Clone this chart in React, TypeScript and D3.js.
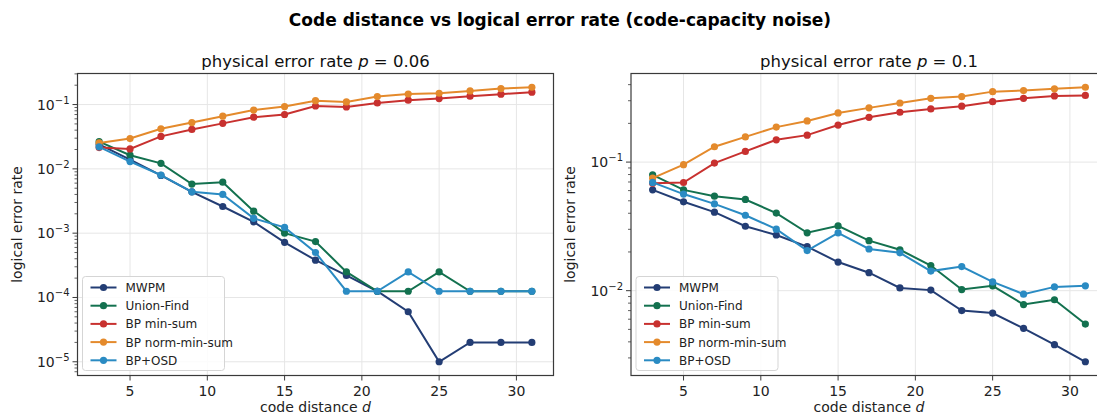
import React from 'react'
import * as d3 from 'd3'

const distances = [3, 5, 7, 9, 11, 13, 15, 17, 19, 21, 23, 25, 27, 29, 31]
const decoders = ['MWPM', 'Union-Find', 'BP min-sum', 'BP norm-min-sum', 'BP+OSD']
const colors = ['#233d74', '#13714f', '#c8312f', '#e48a2c', '#2a8bc3']

// p = 0.06
const mwpm006 = [0.024, 0.0139, 0.0079, 0.0044, 0.0026, 0.0015, 0.00072, 0.00038, 0.00022, 0.000125, 0.00006, 0.00001, 0.00002, 0.00002, 0.00002]
const uf006 = [0.0265, 0.0163, 0.0122, 0.0058, 0.0062, 0.0022, 0.001, 0.00074, 0.00025, 0.000125, 0.000125, 0.00025, 0.000125, 0.000125, 0.000125]
const bpms006 = [0.0214, 0.0204, 0.032, 0.041, 0.051, 0.0636, 0.07, 0.095, 0.092, 0.106, 0.117, 0.124, 0.135, 0.145, 0.156]
const bpnms006 = [0.0253, 0.0296, 0.042, 0.0525, 0.066, 0.082, 0.093, 0.115, 0.11, 0.133, 0.146, 0.15, 0.163, 0.177, 0.186]
const osd006 = [0.022, 0.013, 0.008, 0.0044, 0.004, 0.0017, 0.00123, 0.0005, 0.000125, 0.000125, 0.00025, 0.000125, 0.000125, 0.000125, 0.000125]

// p = 0.1
const mwpm01 = [0.0608, 0.0491, 0.0408, 0.0317, 0.0271, 0.022, 0.0167, 0.0138, 0.0105, 0.0101, 0.0070, 0.0067, 0.0051, 0.0038, 0.0028]
const uf01 = [0.0796, 0.0608, 0.0543, 0.0512, 0.0401, 0.0282, 0.0319, 0.0245, 0.0208, 0.0157, 0.0102, 0.0109, 0.0078, 0.0085, 0.0055]
const bpms01 = [0.0686, 0.0694, 0.0982, 0.121, 0.149, 0.162, 0.194, 0.223, 0.244, 0.259, 0.272, 0.295, 0.313, 0.327, 0.33]
const bpnms01 = [0.075, 0.0954, 0.1316, 0.157, 0.187, 0.209, 0.241, 0.264, 0.288, 0.313, 0.323, 0.353, 0.36, 0.371, 0.382]
const osd01 = [0.0695, 0.0564, 0.0473, 0.0386, 0.0301, 0.0205, 0.0282, 0.0211, 0.0197, 0.0142, 0.0154, 0.0117, 0.0094, 0.0107, 0.0109]

const xTicks = [5, 10, 15, 20, 25, 30]
const font = 'DejaVu Sans, sans-serif'

type PanelProps = {
  left: number
  series: number[][]
  pLabel: string
}

function Panel({ left, series, pLabel }: PanelProps) {
  const width = 476
  const top = 73.5
  const bottom = 375.5
  const x = d3.scaleLinear().domain([1.6, 32.4]).range([left, left + width])
  const all = series.flat()
  const lmin = Math.log10(d3.min(all) as number)
  const lmax = Math.log10(d3.max(all) as number)
  const pad = (lmax - lmin) * 0.05
  const y = d3.scaleLog().domain([10 ** (lmin - pad), 10 ** (lmax + pad)]).range([bottom, top])
  const [d0, d1] = y.domain()
  const majors: number[] = []
  const minors: number[] = []
  for (let k = Math.floor(Math.log10(d0)); k <= Math.ceil(Math.log10(d1)); k++) {
    if (10 ** k >= d0 && 10 ** k <= d1) majors.push(k)
    for (let m = 2; m <= 9; m++) {
      const v = m * 10 ** k
      if (v >= d0 && v <= d1) minors.push(v)
    }
  }
  const line = d3.line<[number, number]>().x(d => x(d[0])).y(d => y(d[1]))
  const cx = left + width / 2
  return (
    <g fontFamily={font}>
      {xTicks.map(t => (
        <line key={'gx' + t} x1={x(t)} x2={x(t)} y1={top} y2={bottom} stroke="#e6e6e6" strokeWidth={1} />
      ))}
      {majors.map(k => (
        <line key={'gy' + k} x1={left} x2={left + width} y1={y(10 ** k)} y2={y(10 ** k)} stroke="#e6e6e6" strokeWidth={1} />
      ))}
      {series.map((vals, i) => {
        const pts = distances.map((dd, j) => [dd, vals[j]] as [number, number])
        return (
          <g key={i}>
            <path d={line(pts) || ''} fill="none" stroke={colors[i]} strokeWidth={2} />
            {pts.map((p, j) => (
              <circle key={j} cx={x(p[0])} cy={y(p[1])} r={3.6} fill={colors[i]} />
            ))}
          </g>
        )
      })}
      <rect x={left} y={top} width={width} height={bottom - top} fill="none" stroke="#3a3a3a" strokeWidth={1.2} />
      {xTicks.map(t => (
        <g key={'tx' + t}>
          <line x1={x(t)} x2={x(t)} y1={bottom} y2={bottom + 5} stroke="#3a3a3a" />
          <text x={x(t)} y={bottom + 20} textAnchor="middle" fontSize={14} fill="#222">{t}</text>
        </g>
      ))}
      {majors.map(k => (
        <g key={'ty' + k}>
          <line x1={left - 5} x2={left} y1={y(10 ** k)} y2={y(10 ** k)} stroke="#3a3a3a" />
          <text x={left - 8} y={y(10 ** k) + 5} textAnchor="end" fontSize={14} fill="#222">
            10<tspan dy={-6} fontSize={10}>{'\u2212' + Math.abs(k)}</tspan>
          </text>
        </g>
      ))}
      {minors.map(v => (
        <line key={'my' + v} x1={left - 3} x2={left} y1={y(v)} y2={y(v)} stroke="#3a3a3a" strokeWidth={0.8} />
      ))}
      <text x={cx} y={67} textAnchor="middle" fontSize={16.5} fill="#111">
        physical error rate <tspan fontStyle="italic">p</tspan> = {pLabel}
      </text>
      <text x={cx} y={412} textAnchor="middle" fontSize={14} fill="#222">
        code distance <tspan fontStyle="italic">d</tspan>
      </text>
      <text transform={`translate(${left - 56},${(top + bottom) / 2}) rotate(-90)`} textAnchor="middle" fontSize={14} fill="#222">
        logical error rate
      </text>
      <g transform={`translate(${left + 5},${bottom - 99})`}>
        <rect x={0} y={0} width={142} height={94} rx={3} fill="#fff" fillOpacity={0.85} stroke="#d5d5d5" />
        {decoders.map((name, i) => (
          <g key={name} transform={`translate(0,${11 + i * 18.2})`}>
            <line x1={8} x2={34} y1={0} y2={0} stroke={colors[i]} strokeWidth={2} />
            <circle cx={21} cy={0} r={3.6} fill={colors[i]} />
            <text x={43} y={4.5} fontSize={12} fill="#222">{name}</text>
          </g>
        ))}
      </g>
    </g>
  )
}

export default function App() {
  return (
    <svg width={1097} height={416} style={{ display: 'block', position: 'absolute', left: 0, top: 0, background: '#fff' }}>
      <rect width={1097} height={416} fill="#fff" />
      <text x={560} y={26} textAnchor="middle" fontFamily={font} fontWeight="bold" fontSize={17} fill="#000">
        Code distance vs logical error rate (code-capacity noise)
      </text>
      <Panel left={77.5} series={[mwpm006, uf006, bpms006, bpnms006, osd006]} pLabel="0.06" />
      <Panel left={631} series={[mwpm01, uf01, bpms01, bpnms01, osd01]} pLabel="0.1" />
    </svg>
  )
}
